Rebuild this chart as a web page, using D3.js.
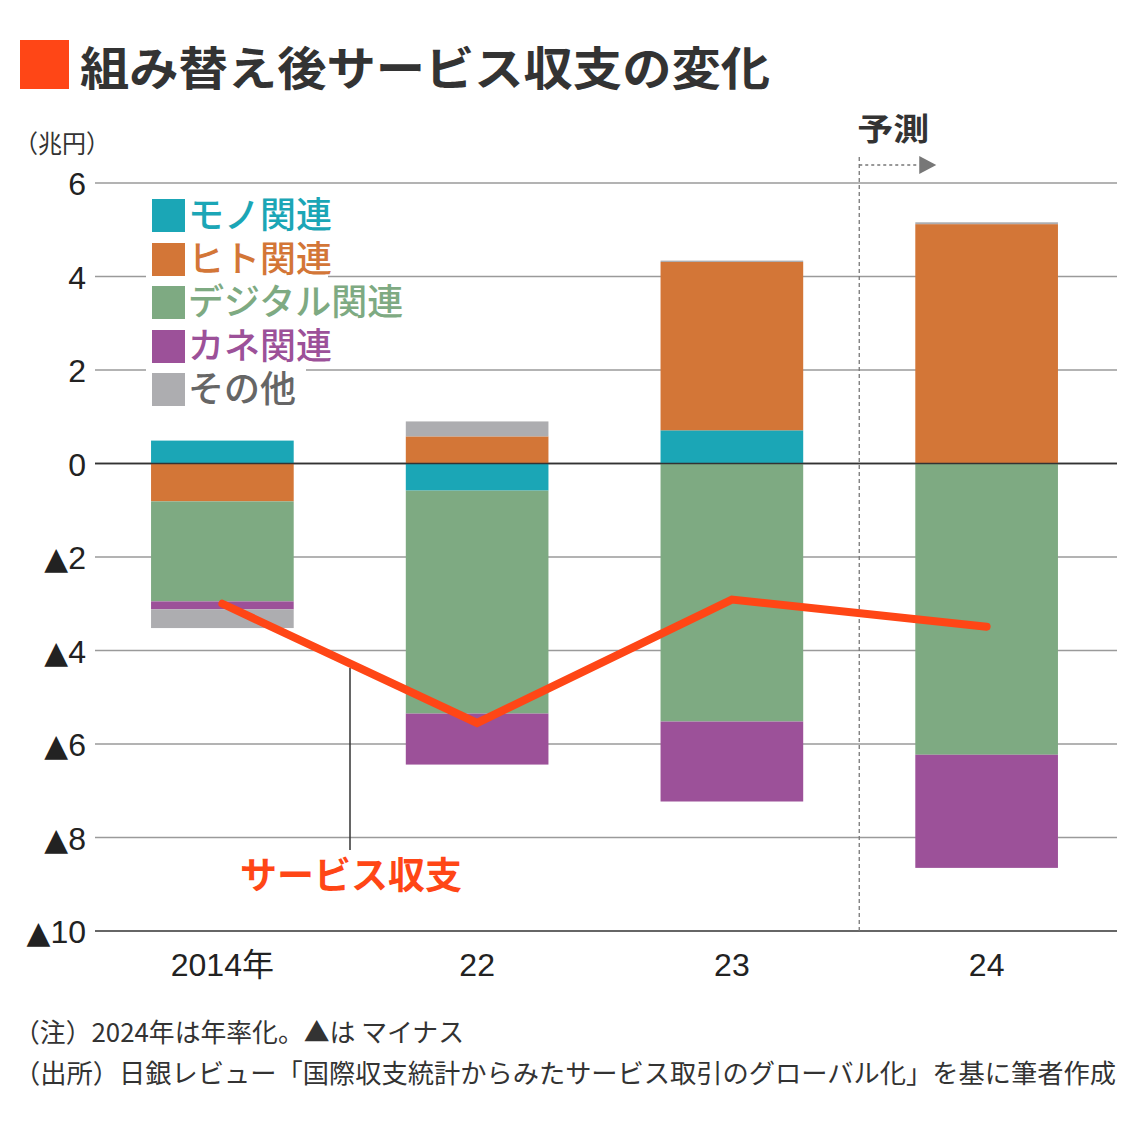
<!DOCTYPE html>
<html><head><meta charset="utf-8">
<script src="https://cdn.jsdelivr.net/npm/d3@7"></script>
<style>body{margin:0;background:#fff;} svg{display:block;font-family:"Noto Sans CJK JP","Noto Sans",sans-serif;}</style>
</head><body><svg id="c" width="1140" height="1127"></svg>
<script>
const years = ["2014年","22","23","24"];
const seriesNames = ["モノ関連","ヒト関連","デジタル関連","カネ関連","その他"];
const seriesColors = ["#1ba6b6","#d37637","#7eaa82","#9c5199","#adadb0"];
const mono    = [0.49, -0.58, 0.71, 0.0];
const hito    = [-0.81, 0.58, 3.60, 5.12];
const digital = [-2.14, -4.77, -5.52, -6.23];
const kane    = [-0.17, -1.09, -1.71, -2.42];
const other   = [-0.40, 0.32, 0.03, 0.04];
const balance = [-3.00, -5.55, -2.91, -3.49];
const yTicks = [6,4,2,0,-2,-4,-6,-8,-10];

const svg = d3.select("#c");
const y = d3.scaleLinear().domain([-10,6]).range([931,183]);
const x = d3.scaleBand().domain(years).range([95,1114]).paddingInner(0.44).paddingOuter(0.22);

// title
svg.append("rect").attr("x",20).attr("y",40).attr("width",49).attr("height",49).attr("fill","#ff4616");
svg.append("text").attr("x",80).attr("y",85).attr("font-size",46).attr("font-weight",700).attr("fill","#333")
  .attr("textLength",690).attr("lengthAdjust","spacingAndGlyphs").text("組み替え後サービス収支の変化");
svg.append("text").attr("x",14).attr("y",153).attr("font-size",25).attr("fill","#333").text("（兆円）").attr("textLength",96).attr("lengthAdjust","spacingAndGlyphs");

// grid
const g = svg.append("g");
g.selectAll("line.grid").data(yTicks).join("line")
  .attr("x1",95).attr("x2",1117).attr("y1",d=>y(d)).attr("y2",d=>y(d))
  .attr("stroke",d=>(d===0||d===-10)?"#333":"#9a9a9a").attr("stroke-width",d=>(d===0||d===-10)?1.6:1.5);
g.selectAll("text.yl").data(yTicks).join("text")
  .attr("x",86).attr("y",d=>y(d)+12).attr("text-anchor","end").attr("font-size",32).attr("fill","#222")
  .attr("font-family","Liberation Sans, Arial, sans-serif")
  .each(function(d){
    const t=d3.select(this);
    if(d<0){
      t.append("tspan").attr("font-family","DejaVu Sans").attr("font-size",31).text("▲");
      t.append("tspan").attr("dx",0).text(String(Math.abs(d)));
    } else t.text(String(d));
  });

// stacked bars
const seriesVals = [mono,hito,digital,kane,other];
years.forEach((yr,i)=>{
  let pos=0, neg=0;
  seriesVals.forEach((arr,s)=>{
    const v = arr[i];
    if (v===0) return;
    let y0,y1;
    if (v>0){ y0=pos; y1=pos+v; pos=y1; } else { y0=neg; y1=neg+v; neg=y1; }
    svg.append("rect").attr("x",x(yr)).attr("width",x.bandwidth())
      .attr("y",y(Math.max(y0,y1))).attr("height",Math.abs(y(y0)-y(y1)))
      .attr("fill",seriesColors[s]);
  });
});
svg.append("line").attr("x1",95).attr("x2",1117).attr("y1",y(0)).attr("y2",y(0)).attr("stroke","#333").attr("stroke-width",1.6);

// forecast divider
const divX = (x("23")+x.bandwidth()+x("24"))/2;
svg.append("line").attr("x1",divX).attr("x2",divX).attr("y1",157).attr("y2",y(-10))
  .attr("stroke","#777").attr("stroke-width",1.3).attr("stroke-dasharray","4,3");
svg.append("line").attr("x1",divX).attr("x2",divX+60).attr("y1",165).attr("y2",165)
  .attr("stroke","#777").attr("stroke-width",1.3).attr("stroke-dasharray","3,3");
svg.append("path").attr("d",`M${divX+60},156 L${divX+77},165 L${divX+60},174 Z`).attr("fill","#777");
svg.append("text").attr("x",divX-2).attr("y",140).attr("font-size",31).attr("font-weight",700).attr("fill","#333")
  .attr("textLength",72).attr("lengthAdjust","spacingAndGlyphs").text("予測");

// annotation leader
svg.append("line").attr("x1",350).attr("x2",350).attr("y1",668).attr("y2",850).attr("stroke","#333").attr("stroke-width",1.5);

// balance line
const line = d3.line().x((d,i)=>x(years[i])+x.bandwidth()/2).y(d=>y(d));
svg.append("path").attr("d",line(balance)).attr("fill","none").attr("stroke","#ff4616").attr("stroke-width",8).attr("stroke-linejoin","miter").attr("stroke-linecap","round");
svg.append("text").attr("x",240).attr("y",889).attr("font-size",37).attr("font-weight",700).attr("fill","#ff4616")
  .attr("textLength",222).attr("lengthAdjust","spacingAndGlyphs").text("サービス収支");

// legend
const legY = [215,259,302,346,389];
const legW = [190,182,268,194,160];
seriesNames.forEach((n,i)=>{
  svg.append("rect").attr("x",146).attr("y",legY[i]-21).attr("width",legW[i]).attr("height",42).attr("fill","#fff");
  svg.append("rect").attr("x",152).attr("y",legY[i]-16).attr("width",33).attr("height",33).attr("fill",seriesColors[i]);
  svg.append("text").attr("x",188).attr("y",legY[i]+13).attr("font-size",36).attr("font-weight",500)
    .attr("fill",i===4?"#666":seriesColors[i]).text(n);
});

// x labels
svg.selectAll("text.xl").data(years).join("text")
  .attr("x",d=>x(d)+x.bandwidth()/2).attr("y",976).attr("text-anchor","middle").attr("font-size",32).attr("fill","#222")
  .attr("font-family","Liberation Sans, Arial, sans-serif")
  .each(function(d){
    const t=d3.select(this);
    const m=d.match(/^(\d+)(年?)$/);
    t.append("tspan").text(m[1]);
    if(m[2]) t.append("tspan").attr("font-family","Noto Sans CJK JP").text(m[2]);
  });

// notes
svg.append("text").attr("x",14).attr("y",1042).attr("font-size",26).attr("fill","#333").text("（注）2024年は年率化。▲は マイナス").attr("textLength",450).attr("lengthAdjust","spacingAndGlyphs");
svg.append("text").attr("x",14).attr("y",1083).attr("font-size",26).attr("fill","#333").text("（出所）日銀レビュー「国際収支統計からみたサービス取引のグローバル化」を基に筆者作成").attr("textLength",1102).attr("lengthAdjust","spacingAndGlyphs");
</script></body></html>
